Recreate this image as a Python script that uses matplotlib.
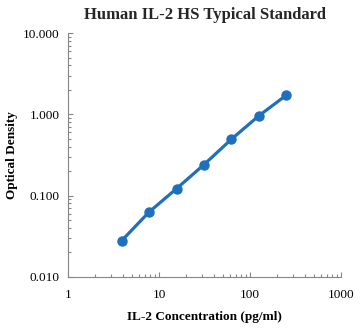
import matplotlib
matplotlib.use("Agg")
import matplotlib.pyplot as plt
from matplotlib.ticker import LogLocator, FixedLocator, FixedFormatter, NullFormatter

conc = [3.9, 7.8, 15.6, 31.25, 62.5, 125, 250]
od = [0.028, 0.063, 0.122, 0.241, 0.495, 0.96, 1.72]
xticks = [1, 10, 100, 1000]
xticklabels = ["1", "10", "100", "1000"]
yticks = [0.01, 0.1, 1, 10]
yticklabels = ["0.010", "0.100", "1.000", "10.000"]

plt.rcParams['font.family'] = ['Liberation Serif', 'DejaVu Serif']

fig = plt.figure(figsize=(3.62, 3.28), dpi=100)
ax = fig.add_axes([0.188, 0.156, 0.754, 0.743])
ax.plot(conc, od, color='#1F6FBF', lw=2.3, marker='o', ms=6.5, solid_capstyle='round')
ax.set_xscale('log')
ax.set_yscale('log')
ax.set_xlim(1, 1000)
ax.set_ylim(0.01, 10)
ax.xaxis.set_major_locator(FixedLocator(xticks))
ax.xaxis.set_major_formatter(FixedFormatter(xticklabels))
ax.yaxis.set_major_locator(FixedLocator(yticks))
ax.yaxis.set_major_formatter(FixedFormatter(yticklabels))
ax.xaxis.set_minor_locator(LogLocator(base=10, subs=range(2, 10)))
ax.yaxis.set_minor_locator(LogLocator(base=10, subs=range(2, 10)))
ax.xaxis.set_minor_formatter(NullFormatter())
ax.yaxis.set_minor_formatter(NullFormatter())
for s in ['top', 'right']:
    ax.spines[s].set_visible(False)
for s in ['left', 'bottom']:
    ax.spines[s].set_color('#868686')
    ax.spines[s].set_linewidth(0.8)
ax.tick_params(which='major', direction='in', length=3.5, width=0.8, color='#868686', labelsize=9.5, pad=6)
ax.tick_params(which='minor', direction='in', length=2.2, width=0.8, color='#868686')
ax.tick_params(axis='x', pad=9)
ax.set_title("Human IL-2 HS Typical Standard", fontsize=12, fontweight='bold', color='#262626', pad=10)
ax.set_xlabel("IL-2 Concentration (pg/ml)", fontsize=9.5, fontweight='bold', labelpad=7)
ax.set_ylabel("Optical Density", fontsize=9.5, fontweight='bold', labelpad=4)
fig.savefig("out.png", dpi=100)
